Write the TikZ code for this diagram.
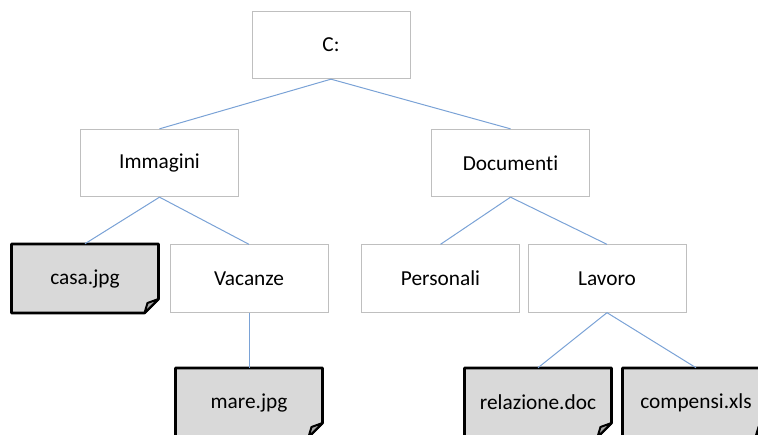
\documentclass[tikz,border=0pt]{standalone}
\usepackage{fontspec}
\setmainfont{Carlito}[Ligatures=NoCommon]
\usepackage{tikz}
\usetikzlibrary{calc}
\definecolor{linkblue}{HTML}{7AA2D6}
\definecolor{boxgray}{HTML}{BFBFBF}
\definecolor{filegray}{HTML}{D9D9D9}
\definecolor{foldgray}{HTML}{A6A6A6}
\tikzset{
  dirbox/.style={draw=boxgray, fill=white, line width=0.75pt, minimum width=118.5pt, minimum height=50.5pt, font=\fontsize{16}{19}\selectfont},
  filetext/.style={minimum width=110pt, minimum height=51.75pt, font=\fontsize{16}{19}\selectfont},
  link/.style={draw=linkblue, line width=0.75pt}
}
% file with folded corner: name, x, y, text
\newcommand{\filenode}[4]{
  \coordinate (#1c) at (#2,#3);
  \draw[fill=filegray, line width=2pt, line join=round] ($(#1c)+(-73.5,-34.5)$) -- ($(#1c)+(73.5,-34.5)$) -- ($(#1c)+(73.5,20.5)$) -- ($(#1c)+(59.5,34.5)$) -- ($(#1c)+(-73.5,34.5)$) -- cycle;
  \draw[fill=foldgray, line width=1.5pt, line join=round] ($(#1c)+(59.5,34.5)$) -- ($(#1c)+(73.5,20.5)$) -- ($(#1c)+(62.5,24.5)$) -- cycle;
  \node[filetext] (#1) at (#1c) {#4};
}

\begin{document}
\begin{tikzpicture}[x=0.75pt, y=-0.75pt]
        \useasboundingbox (0,0) rectangle (758,435);
        % directories
        \node[dirbox] (root) at (331,45) {C:};
        \node[dirbox] (imm) at (159.5,163) {Immagini};
        \node[dirbox] (doc) at (510.5,163) {Documenti};
        \node[dirbox] (vac) at (249,278.5) {Vacanze};
        \node[dirbox] (pers) at (440.5,278.5) {Personali};
        \node[dirbox] (lav) at (607,278.5) {Lavoro};
        % files
        \filenode{casa}{85}{278.5}{casa.jpg}
        \filenode{mare}{249}{402.5}{mare.jpg}
        \filenode{rel}{538}{402.5}{relazione.doc}
        \filenode{comp}{696}{402.5}{compensi.xls}
        % links
        \draw[link] (root.south) -- (imm.north);
        \draw[link] (root.south) -- (doc.north);
        \draw[link] (imm.south) -- (casa.north);
        \draw[link] (imm.south) -- (vac.north);
        \draw[link] (doc.south) -- (pers.north);
        \draw[link] (doc.south) -- (lav.north);
        \draw[link] (vac.south) -- (mare.north);
        \draw[link] (lav.south) -- (rel.north);
        \draw[link] (lav.south) -- (comp.north);
    \end{tikzpicture}
\end{document}
